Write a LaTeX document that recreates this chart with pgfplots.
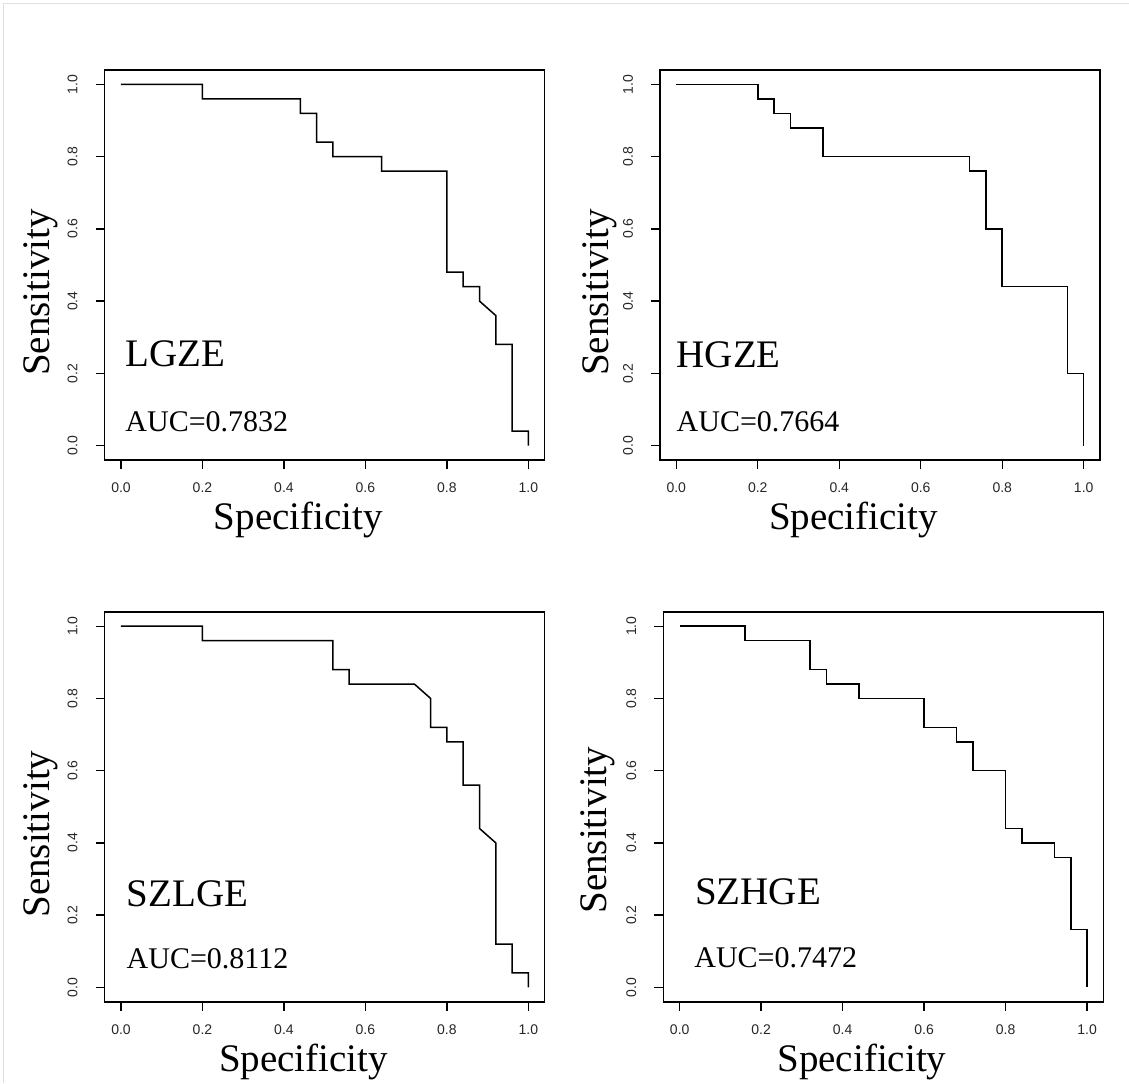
\documentclass[border=0pt]{standalone}
\usepackage{fontspec}
\setmainfont{Liberation Serif}
\newfontfamily\ticksf{Liberation Sans}
\usepackage{pgfplots}
\pgfplotsset{compat=1.18}

\pgfplotsset{
  roc/.style={
    scale only axis,
    width=220pt, height=195pt,
    xmin=-0.04, xmax=1.04, ymin=-0.04, ymax=1.04,
    xtick={0,0.2,...,1.0}, ytick={0,0.2,...,1.0},
    tick pos=left,
    tick align=outside,
    major tick length=4.5pt,
    every tick/.style={black, line width=0.7pt},
    axis line style={line width=0.75pt},
    /pgf/number format/assume math mode=true,
    /pgf/number format/fixed,
    /pgf/number format/fixed zerofill,
    /pgf/number format/precision=1,
    tick label style={font=\ticksf\fontsize{7}{8}\selectfont, text=black!85},
    xticklabel style={anchor=north, yshift=-3.5pt},
    yticklabel style={rotate=90, anchor=south, yshift=5.5pt},
    label style={font=\fontsize{19.5}{22}\selectfont},
    xlabel={Specificity},
    ylabel={Sensitivity},
    xlabel style={at={(axis description cs:0.44,-0.154)}, anchor=center},
    ylabel style={at={(axis description cs:-0.145,0.43)}, anchor=center, rotate=0},
  },
  curve/.style={black, line width=0.75pt, mark=none},
}
\tikzset{
  pname/.style={anchor=base west, inner xsep=0pt, font=\fontsize{19.5}{22}\selectfont},
  auc/.style={anchor=base west, inner xsep=0pt, font=\fontsize{15}{18}\selectfont},
}

\begin{document}
\begin{tikzpicture}
\useasboundingbox (0,0) rectangle (564.5pt,541.5pt);
\draw[gray!25, line width=0.5pt] (1.5pt,0) -- (1.5pt,539.5pt) -- (564.5pt,539.5pt);

% LGZE
\begin{axis}[roc, at={(52.35pt,311.5pt)}, anchor=south west]
\addplot[curve] coordinates {
 (0,1) (0.2,1) (0.2,0.96) (0.44,0.96) (0.44,0.92) (0.48,0.92) (0.48,0.84)
 (0.52,0.84) (0.52,0.80) (0.64,0.80) (0.64,0.76) (0.80,0.76) (0.80,0.48)
 (0.84,0.48) (0.84,0.44) (0.88,0.44) (0.88,0.40) (0.92,0.36) (0.92,0.28)
 (0.96,0.28) (0.96,0.04) (1,0.04) (1,0)
};
\node[pname] at (axis cs:0.01,0.22) {LGZE};
\node[auc] at (axis cs:0.01,0.04) {AUC=0.7832};
\end{axis}

% HGZE
\begin{axis}[roc, at={(330pt,311.5pt)}, anchor=south west,
  ylabel style={at={(axis description cs:-0.136,0.43)}}]
\addplot[curve] coordinates {
 (0,1) (0.2,1) (0.2,0.96) (0.24,0.96) (0.24,0.92) (0.28,0.92) (0.28,0.88)
 (0.36,0.88) (0.36,0.80) (0.72,0.80) (0.72,0.76) (0.76,0.76) (0.76,0.60)
 (0.80,0.60) (0.80,0.44) (0.96,0.44) (0.96,0.20) (1,0.20) (1,0)
};
\node[pname] at (axis cs:0.0,0.215) {HGZE};
\node[auc] at (axis cs:0.0,0.04) {AUC=0.7664};
\end{axis}

% SZLGE
\begin{axis}[roc, at={(52.35pt,40.6pt)}, anchor=south west,
  xlabel style={at={(axis description cs:0.452,-0.154)}}]
\addplot[curve] coordinates {
 (0,1) (0.2,1) (0.2,0.96) (0.52,0.96) (0.52,0.88) (0.56,0.88) (0.56,0.84)
 (0.72,0.84) (0.76,0.80) (0.76,0.72) (0.80,0.72) (0.80,0.68) (0.84,0.68)
 (0.84,0.56) (0.88,0.56) (0.88,0.44) (0.92,0.40) (0.92,0.12) (0.96,0.12)
 (0.96,0.04) (1,0.04) (1,0)
};
\node[pname] at (axis cs:0.013,0.224) {SZLGE};
\node[auc] at (axis cs:0.013,0.053) {AUC=0.8112};
\end{axis}

% SZHGE
\begin{axis}[roc, at={(331.7pt,40.6pt)}, anchor=south west,
  xlabel style={at={(axis description cs:0.451,-0.154)}},
  ylabel style={at={(axis description cs:-0.149,0.44)}}]
\addplot[curve] coordinates {
 (0,1) (0.16,1) (0.16,0.96) (0.32,0.96) (0.32,0.88) (0.36,0.88) (0.36,0.84)
 (0.44,0.84) (0.44,0.80) (0.60,0.80) (0.60,0.72) (0.68,0.72) (0.68,0.68)
 (0.72,0.68) (0.72,0.60) (0.80,0.60) (0.80,0.44) (0.84,0.44) (0.84,0.40)
 (0.92,0.40) (0.92,0.36) (0.96,0.36) (0.96,0.16) (1,0.16) (1,0)
};
\node[pname] at (axis cs:0.037,0.23) {SZHGE};
\node[auc] at (axis cs:0.035,0.056) {AUC=0.7472};
\end{axis}
\end{tikzpicture}
\end{document}
